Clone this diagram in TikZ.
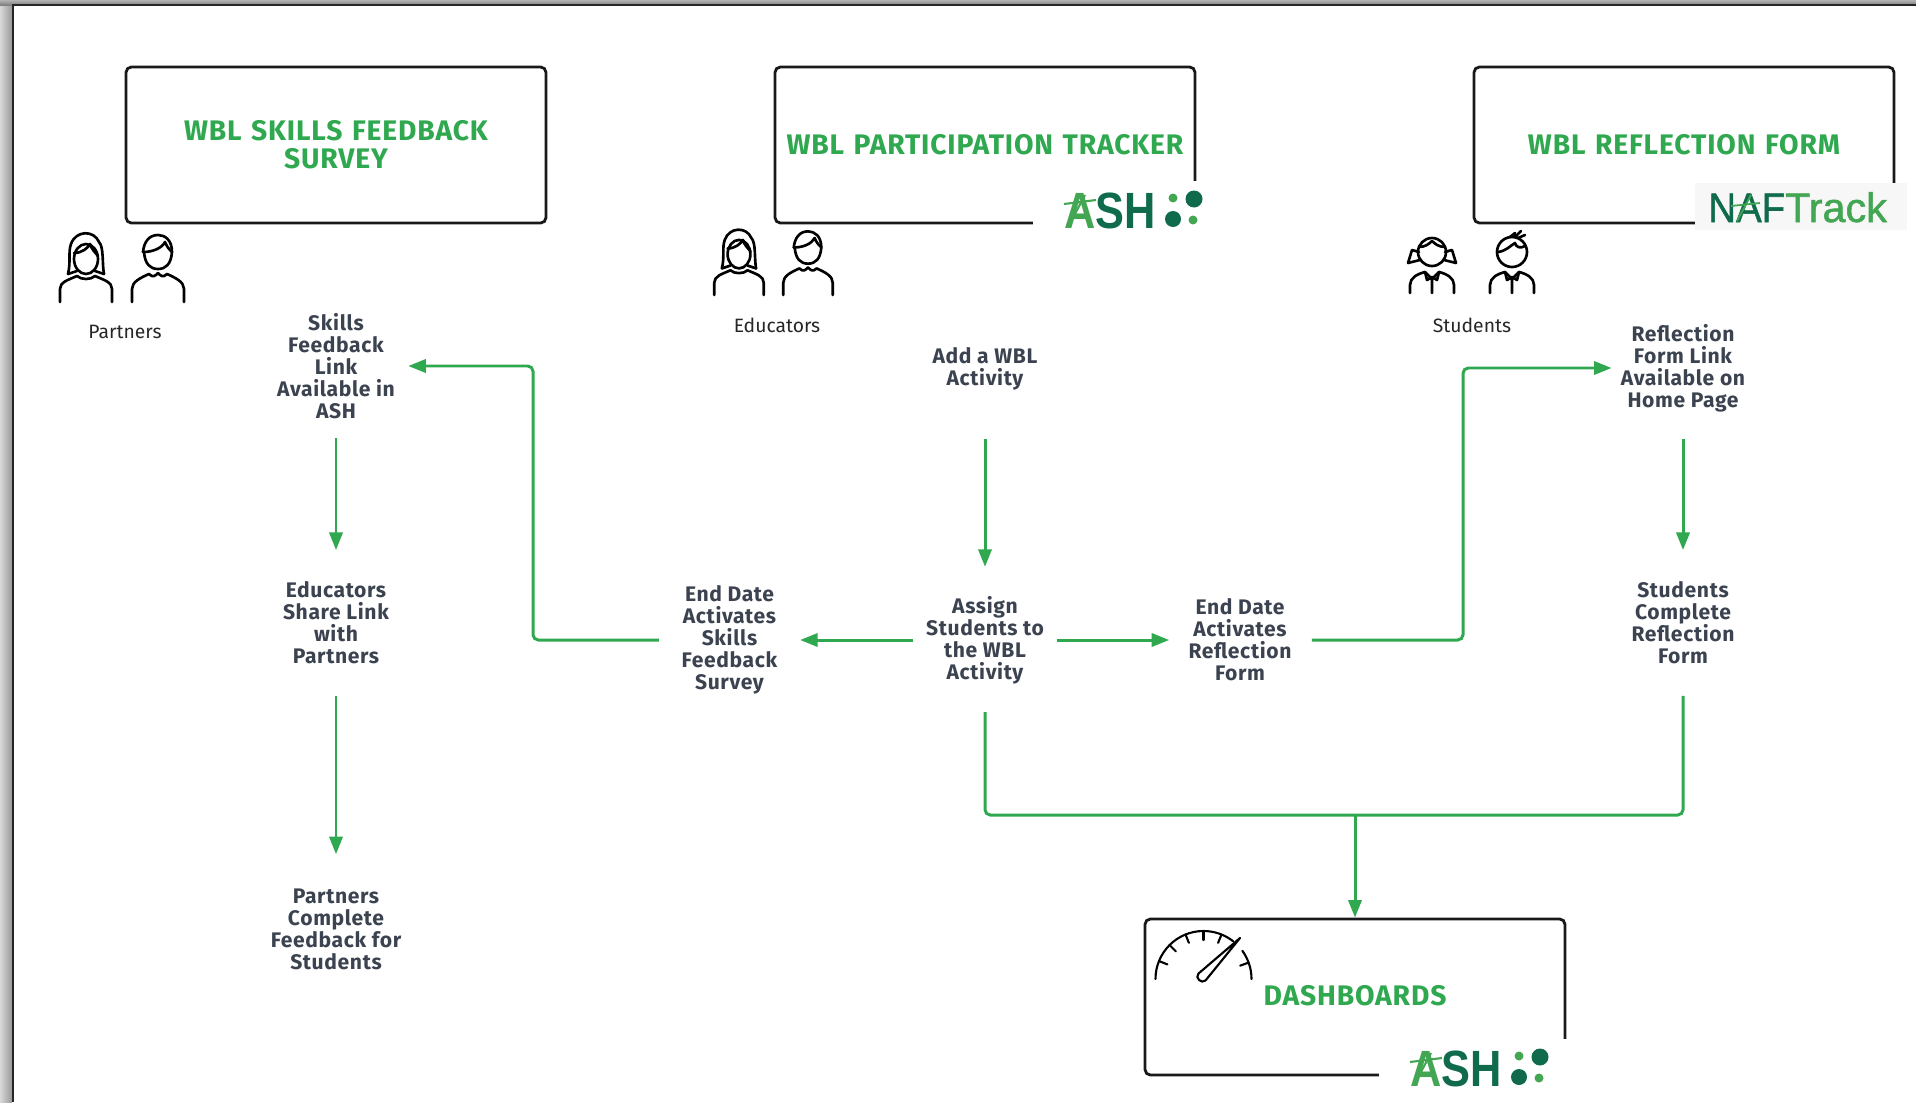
\documentclass[tikz,border=0pt]{standalone}
\usepackage{fontspec}
\setmainfont{Fira Sans}
\newfontfamily\spacedfont[LetterSpace=3]{Fira Sans}
\newfontfamily\logofont[FakeBold=1.3]{Liberation Sans}
\usetikzlibrary{arrows.meta}
\definecolor{wblgreen}{HTML}{2FA84F}
\definecolor{ashdark}{HTML}{0F6B4B}
\definecolor{ashlight}{HTML}{43A653}
\definecolor{bodyink}{HTML}{3C4350}
\tikzset{
	titlebox/.style={draw=black!90,line width=1.6pt,rounded corners=3pt,minimum width=8.4cm,minimum height=3.12cm,inner xsep=0pt,text width=8.3cm,align=center,text=wblgreen,font=\spacedfont\fontsize{16.1}{16}\selectfont\bfseries},
	stepnode/.style={align=center,text=bodyink,inner xsep=.3cm,inner ysep=.32cm,font=\spacedfont\fontsize{12}{12.5}\selectfont\bfseries},
	rolelabel/.style={text=black!85,inner sep=0pt,font=\fontsize{11}{12}\selectfont},
	flowline/.style={draw=wblgreen,line width=1.7pt,rounded corners=3pt},
	flow/.style={flowline,-{Triangle[length=10pt,width=7.5pt]},shorten <=.26cm,shorten >=.26cm},
	icon/.style={draw=black,line width=1.5pt,line cap=round,line join=round},
	woman/.pic={
		\draw[icon] (0,-43) ellipse (12 and 15);
		\draw[icon] (-18,-28) -- (-9,-31) (18,-28) -- (9,-31);
		\draw[icon] (-18,-28) .. controls (-15,-40) and (-18,-50) .. (-15,-58) .. controls (-10,-72) and (8,-72) .. (13,-60) .. controls (18,-55) and (16,-38) .. (18,-28);
		\draw[icon] (-12,-49) .. controls (-4,-49) and (2,-54) .. (4,-58) .. controls (6,-52) and (9,-50) .. (12,-46);
		\draw[icon] (-26,0) -- (-26,-13) .. controls (-26,-20) and (-18,-22) .. (-9,-26) .. controls (-5,-22) and (5,-22) .. (9,-26) .. controls (18,-22) and (26,-20) .. (26,-13) -- (26,0);
	},
	man/.pic={
		\draw[icon] (-14,-50) .. controls (-13,-38) and (-8,-33) .. (0,-33) .. controls (8,-33) and (13,-38) .. (14,-50) .. controls (14,-62) and (7,-67) .. (0,-67) .. controls (-9,-67) and (-14,-60) .. (-15,-50);
		\draw[icon] (-15,-50) .. controls (-5,-50) and (4,-54) .. (7,-60) .. controls (9,-55) and (11,-53) .. (14,-50);
		\draw[icon] (-26,0) -- (-26,-13) .. controls (-26,-20) and (-18,-24) .. (-9,-28) .. controls (-5,-24) and (-3,-26) .. (0,-29) .. controls (3,-26) and (5,-24) .. (9,-28) .. controls (18,-24) and (26,-20) .. (26,-13) -- (26,0);
	},
	girl/.pic={
		\draw[icon] (0,-41) circle (14);
		\draw[icon] (-13,-46) .. controls (-7,-46) and (-3,-49) .. (0,-52) .. controls (3,-49) and (7,-46) .. (13,-46);
		\draw[icon] (-13,-41) -- (-20,-43) -- (-24,-30) -- (-12,-33);
		\draw[icon] (13,-41) -- (20,-43) -- (24,-30) -- (12,-33);
		\draw[icon] (-22,0) -- (-22,-8) .. controls (-22,-15) and (-15,-19) .. (-7,-21) -- (0,-14) -- (7,-21) .. controls (15,-19) and (22,-15) .. (22,-8) -- (22,0);
		\draw[icon] (0,-14) -- (0,0) (-7,-21) -- (-5,-13) -- (0,-16) (7,-21) -- (5,-13) -- (0,-16);
	},
	boy/.pic={
		\draw[icon] (0,-41) circle (15);
		\draw[icon] (-14,-41) .. controls (-6,-42) and (-2,-47) .. (3,-50) .. controls (4,-46) and (8,-44) .. (13,-47);
		\draw[icon] (-2,-56) -- (3,-60) (3,-56) -- (9,-62) (6,-55) -- (13,-58);
		\draw[icon] (-22,0) -- (-22,-8) .. controls (-22,-15) and (-15,-19) .. (-7,-21) -- (0,-14) -- (7,-21) .. controls (15,-19) and (22,-15) .. (22,-8) -- (22,0);
		\draw[icon] (0,-14) -- (0,0) (-7,-21) -- (-5,-13) -- (0,-16) (7,-21) -- (5,-13) -- (0,-16);
	},
	ashlogo/.pic={
		\fill[white] (-31,-47) rectangle (160,24);
		\node[anchor=base west,inner sep=0pt,font=\fontspec{Liberation Sans}\fontsize{29}{29}\selectfont\bfseries] (-txt) at (0,0) {\scalebox{.85}[1]{\textcolor{ashlight}{A}\textcolor{ashdark}{SH}}};
		\draw[ashlight,line width=1.2pt] (0,-24) -- (32,-28) (4,-1) -- (21,-33);
		\fill[ashdark] (130,-29) circle (8.5) (109,-9) circle (8);
		\fill[ashlight] (109,-30) circle (4.5) (129,-8) circle (4.5);
	},
}
\begin{document}
\begin{tikzpicture}[x=.02cm,y=-.02cm]
	\useasboundingbox (0,0) rectangle (1916,1102);
	% Window edge
	\fill[left color=black!15,right color=black!40,draw=none] (0,0) rectangle (12,1102);
	\fill[top color=black!30,bottom color=black!50,draw=none] (0,0) rectangle (1916,5);
	\draw[black!85,line width=1.3pt] (13,1102) -- (13,5) -- (1916,5);

	% Big boxes
	\node[titlebox] (survey) at (336,145) {WBL SKILLS FEEDBACK\\SURVEY};
	\node[titlebox] (tracker) at (985,145) {\raisebox{.7pt}{WBL PARTICIPATION TRACKER}};
	\node[titlebox] (reflection) at (1684,145) {\raisebox{.7pt}{WBL REFLECTION FORM}};
	\node[titlebox] (dash) at (1355,997) {\raisebox{1.3pt}{DASHBOARDS}};

	% Logos
	\pic (ashtop) at (1064,228) {ashlogo};
	\pic (ashbottom) at (1410,1086) {ashlogo};
	\node[fill=black!3,minimum width=4.24cm,minimum height=.94cm,inner sep=0pt] (naf) at (1801,206.5) {};
	\node[anchor=base west,inner sep=0pt,font=\logofont\fontsize{23.5}{24}\selectfont] (naftext) at (1708,222) {\scalebox{.93}[1]{\textcolor{ashdark}{NAF}}\textcolor{ashlight}{Track}};
	\draw[ashlight,line width=1pt] (1731,206) -- (1760,203) (1737,221) -- (1751,195);

	% People
	\pic at (86,302) {woman};
	\pic at (158,302) {man};
	\pic[scale=.95] at (739,295) {woman};
	\pic[scale=.95] at (808,295) {man};
	\pic at (1432,293) {girl};
	\pic at (1512,293) {boy};
	\node[rolelabel] (partners) at (125,332) {Partners};
	\node[rolelabel] (educators) at (777,325) {Educators};
	\node[rolelabel] (students) at (1472,325) {Students};

	% Gauge
	\begin{scope}[shift={(1203.5,979)},yscale=-1]
		\draw[icon,line width=1.2pt] (180:48) arc (180:52:48);
		\draw[icon,line width=1.2pt] (36:48) arc (36:0:48);
		\foreach \ang in {158,135,112,90,68,20}
			\draw[icon,line width=1.2pt] (\ang:48) -- (\ang:39);
		\draw[icon,line width=1.2pt] (36.5,41) -- (-5,5.5) .. controls (-9,1) and (-2,-5) .. (2,-1.5) -- cycle;
	\end{scope}

	% Steps
	\node[stepnode] (skillslink) at (336,366) {Skills\\Feedback\\Link\\Available in\\ASH};
	\node[stepnode] (sharelink) at (336,623) {Educators\\Share Link\\with\\Partners};
	\node[stepnode] (partnerdone) at (336,929) {Partners\\Complete\\Feedback for\\Students};
	\node[stepnode] (endskills) at (729.5,640) {End Date\\Activates\\Skills\\Feedback\\Survey};
	\node[stepnode] (addwbl) at (985,369) {Add a WBL\\Activity};
	\node[stepnode] (assign) at (985,640) {Assign\\Students to\\the WBL\\Activity};
	\node[stepnode] (endreflect) at (1240,640) {End Date\\Activates\\Reflection\\Form};
	\node[stepnode] (reflectlink) at (1683,368) {Reflection\\Form Link\\Available on\\Home Page};
	\node[stepnode] (studentdone) at (1683,623) {Students\\Complete\\Reflection\\Form};

	% Turning points
	\coordinate (leftbus) at (533,500);
	\coordinate (rightbus) at (1463,500);
	\coordinate (merge) at (1355,815);

	% Arrows
	\draw[flow,shorten <=.06cm,shorten >=.31cm] (skillslink.south) -- (sharelink.north);
	\draw[flow,shorten <=.31cm,shorten >=.36cm] (sharelink.south) -- (partnerdone.north);
	\draw[flow,shorten <=.65cm] (addwbl.south) -- (assign.north);
	\draw[flow,shorten <=.21cm,shorten >=.31cm] (reflectlink.south) -- (studentdone.north);
	\draw[flow,shorten <=-.05cm,shorten >=.15cm] (assign.west) -- (endskills.east);
	\draw[flow,shorten <=-.05cm,shorten >=.08cm] (assign.east) -- (endreflect.west);
	\draw[flow,shorten <=.15cm,shorten >=-.04cm] (endskills.west) -| (leftbus) |- (skillslink.east);
	\draw[flow,shorten <=.1cm,shorten >=-.12cm] (endreflect.east) -| (rightbus) |- (reflectlink.west);
	\draw[flowline,shorten <=.24cm] (assign.south) |- (merge);
	\draw[flowline,shorten <=.31cm] (studentdone.south) |- (merge);
	\draw[flow,shorten <=0cm,shorten >=0cm] (merge) -- (dash.north);
\end{tikzpicture}
\end{document}
